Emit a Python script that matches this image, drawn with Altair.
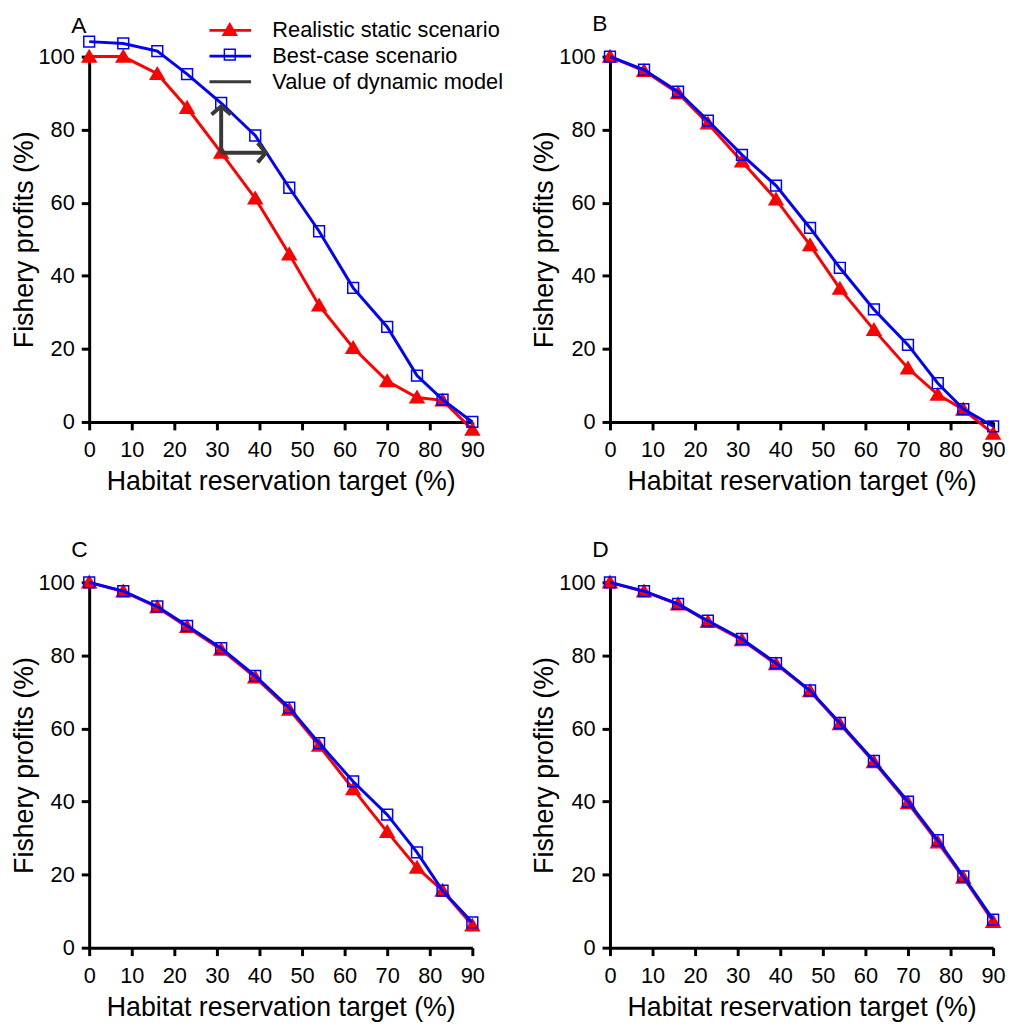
import altair as alt
import pandas as pd

FONT = "Liberation Sans"

# Habitat reservation targets (%)
X_VALS = [0, 8, 16, 23, 31, 39, 47, 54, 62, 70, 77, 83, 90]

SERIES = ["Realistic static scenario", "Best-case scenario", "Value of dynamic model"]
COLORS = ["#ff0000", "#0000ff", "#383838"]

# Fishery profits (%) per panel
A_REAL = [100, 100, 95.3, 86.0, 73.7, 61.2, 45.9, 31.9, 20.3, 11.2, 6.7, 5.9, -2.1]
A_BEST = [104.1, 103.6, 101.5, 95.2, 87.3, 78.4, 64.1, 52.2, 36.7, 26.0, 12.7, 6.1, 0.0]
B_REAL = [100, 96.1, 90.0, 81.7, 71.3, 60.9, 48.4, 36.5, 25.2, 14.7, 7.5, 3.4, -3.2]
B_BEST = [100, 96.4, 90.4, 82.5, 73.1, 64.7, 53.1, 42.2, 30.8, 21.1, 10.6, 3.5, -1.2]
C_REAL = [100, 97.5, 93.2, 87.8, 81.6, 74.0, 65.2, 55.3, 43.4, 31.7, 21.9, 15.6, 6.1]
C_BEST = [100, 97.6, 93.4, 88.1, 82.0, 74.4, 65.7, 56.0, 45.5, 36.4, 26.1, 15.6, 6.9]
D_REAL = [100, 97.5, 94.0, 89.2, 84.2, 77.6, 70.2, 61.2, 50.8, 39.6, 28.8, 19.2, 7.1]
D_BEST = [100, 97.6, 94.1, 89.5, 84.5, 77.9, 70.4, 61.5, 51.1, 40.0, 29.4, 19.5, 7.7]

# "Value of dynamic model" arrows in panel A
ARROW_X = [31, 31]
ARROW_Y = [73.7, 73.7]
ARROW_X2 = [31, 41.5]
ARROW_Y2 = [86.4, 73.7]
ARROW_ANGLE = [0, 90]

X_TICKS = [0, 10, 20, 30, 40, 50, 60, 70, 80, 90]
Y_TICKS = [0, 20, 40, 60, 80, 100]

TRI = "M-0.54,0.42L0,-0.5L0.54,0.42Z"
SQ = "M-0.42,-0.42H0.42V0.42H-0.42Z"
LEG_LINE = "M-1.615,0H1.615"
CHEVRON = "M-1,0.85L0,0L1,0.85"

LEG_X = 128
LEG_Y = -41

leg_lines = alt.Legend(
    title=None, orient="none", legendX=LEG_X, legendY=LEG_Y,
    symbolType=LEG_LINE, symbolSize=676, symbolStrokeWidth=3,
    symbolFillColor="transparent", symbolOpacity=1,
    labelFont=FONT, labelFontSize=22, labelColor="black", labelLimit=500,
    labelOffset=28, rowPadding=0, padding=0,
)
leg_marks = alt.Legend(
    title=None, orient="none", legendX=LEG_X, legendY=LEG_Y,
    symbolSize=676, symbolStrokeWidth=1.5, symbolOpacity=1,
    labelFont=FONT, labelFontSize=22, labelOpacity=0, labelLimit=500,
    labelOffset=28, rowPadding=0, padding=0,
)


def panel(label, real, best, arrows=False, title_offset=10):
    n = len(X_VALS)
    df = pd.DataFrame({
        "x": X_VALS + X_VALS,
        "y": real + best,
        "series": [SERIES[0]] * n + [SERIES[1]] * n,
    })
    df["marker"] = df["series"]
    base = alt.Chart(df)
    xenc = alt.X("x:Q", scale=alt.Scale(domain=[0, 90], nice=False),
                 axis=alt.Axis(values=X_TICKS, title="Habitat reservation target (%)"))
    yenc = alt.Y("y:Q", scale=alt.Scale(domain=[0, 100], nice=False),
                 axis=alt.Axis(values=Y_TICKS, title="Fishery profits (%)"))
    color = alt.Color("series:N", scale=alt.Scale(domain=SERIES, range=COLORS), legend=leg_lines)
    shape = alt.Shape("marker:N", scale=alt.Scale(domain=SERIES[:2], range=[TRI, SQ]), legend=leg_marks)
    fill = alt.Fill("marker:N", scale=alt.Scale(domain=SERIES[:2], range=["#ff0000", "transparent"]), legend=leg_marks)
    stroke = alt.Stroke("marker:N", scale=alt.Scale(domain=SERIES[:2], range=["#ff0000", "#0000ff"]), legend=leg_marks)

    layers = []
    for s in SERIES[:2]:
        layers.append(base.transform_filter(alt.datum.series == s)
                      .mark_line(strokeWidth=3)
                      .encode(x=xenc, y=yenc, color=color))
        layers.append(base.transform_filter(alt.datum.series == s)
                      .mark_point(filled=True, size=676, strokeWidth=1.5, opacity=1)
                      .encode(x=xenc, y=yenc, shape=shape, fill=fill, stroke=stroke))
    if arrows:
        adf = pd.DataFrame({"x": ARROW_X, "y": ARROW_Y, "x2": ARROW_X2, "y2": ARROW_Y2,
                            "ang": ARROW_ANGLE, "series": [SERIES[2]] * 2})
        ab = alt.Chart(adf)
        layers.append(ab.mark_rule(strokeWidth=4).encode(
            x=xenc, y=yenc, x2="x2:Q", y2="y2:Q", color=color))
        layers.append(ab.mark_point(shape=CHEVRON, size=380, strokeWidth=4, opacity=1,
                                    filled=False, strokeJoin="miter").encode(
            x=alt.X("x2:Q", scale=alt.Scale(domain=[0, 90], nice=False)),
            y=alt.Y("y2:Q", scale=alt.Scale(domain=[0, 100], nice=False)),
            angle=alt.Angle("ang:Q", scale=None),
            color=color))
    return alt.layer(*layers).properties(
        width=387, height=369,
        title=alt.TitleParams(text=label, anchor="start", frame="group", dx=-18, fontSize=23,
                              font=FONT, fontWeight="normal", color="black",
                              offset=title_offset),
    )


chart = alt.concat(
    panel("A", A_REAL, A_BEST, arrows=True, title_offset=-5),
    panel("B", B_REAL, B_BEST),
    panel("C", C_REAL, C_BEST),
    panel("D", D_REAL, D_BEST),
    columns=2,
    spacing=alt.RowColnumber(row=162, column=139),
    bounds="flush",
).properties(
    padding={"left": 2, "top": 0, "right": 0, "bottom": 0},
).configure_view(stroke=None).configure_axis(
    grid=False,
    domainColor="black", domainWidth=3,
    tickColor="black", tickWidth=3, tickSize=8,
    labelFont=FONT, labelFontSize=22, labelColor="black", labelPadding=7,
    labelFlush=False,
    titleFont=FONT, titleFontSize=27, titleFontWeight="normal", titleColor="black",
).configure_axisY(titlePadding=0).configure_axisX(titlePadding=8, labelPadding=10)

chart.save("out.html", embed_options={"renderer": "svg", "actions": False})
